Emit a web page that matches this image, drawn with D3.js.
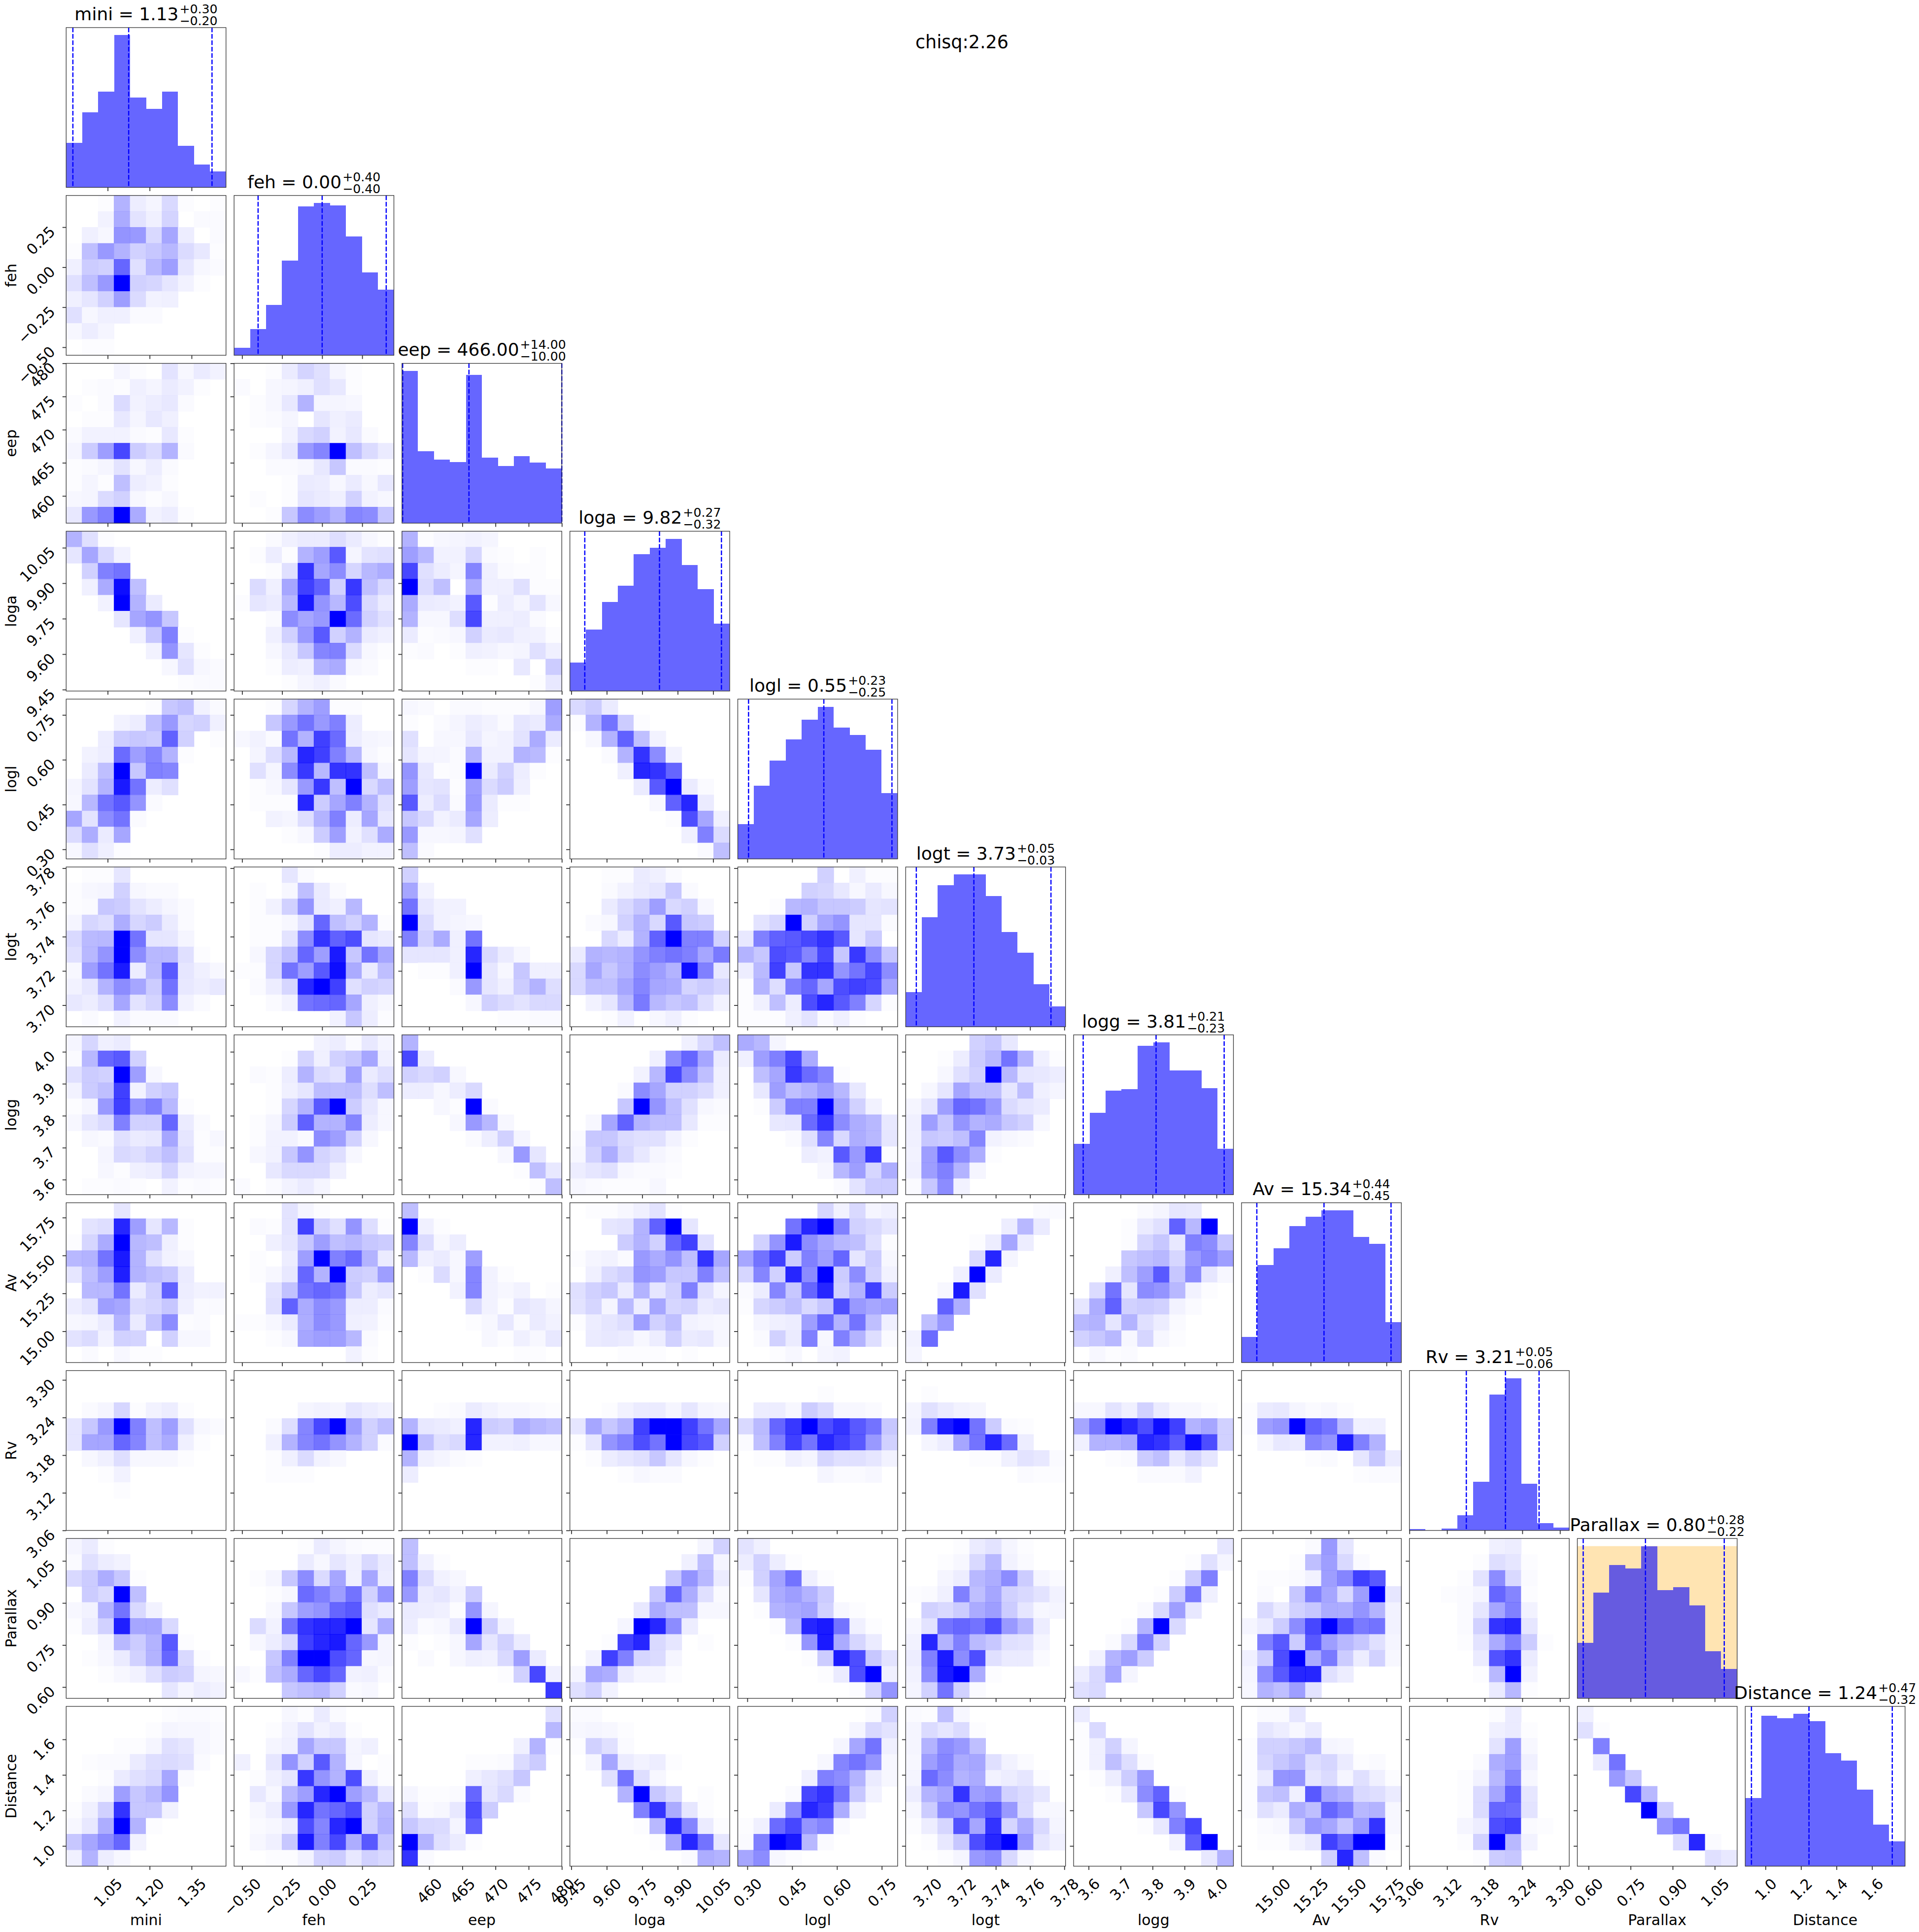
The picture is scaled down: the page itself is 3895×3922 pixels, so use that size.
<!DOCTYPE html>
<html>
<head>
<meta charset="utf-8">
<script src="https://cdn.jsdelivr.net/npm/d3@7"></script>
<style>
  body { margin: 0; background: #fff; }
  text { font-family: "DejaVu Sans", sans-serif; fill: #000; }
</style>
</head>
<body>
<div id="corner"></div>
<script>
// Parameter names and what the axes show
const names = ["mini", "feh", "eep", "loga", "logl", "logt", "logg", "Av", "Rv", "Parallax", "Distance"];
const ranges = [[0.9015, 1.473], [-0.55, 0.448], [455.9, 480], [9.444, 10.12], [0.268, 0.803], [3.6874, 3.7807],
    [3.553, 4.053], [14.794, 15.848], [3.06, 3.3148], [0.56, 1.13], [0.886, 1.786]];
const tickValues = [[1.05, 1.2, 1.35], [-0.5, -0.25, 0, 0.25], [460, 465, 470, 475, 480], [9.45, 9.6, 9.75, 9.9, 10.05],
    [0.3, 0.45, 0.6, 0.75], [3.7, 3.72, 3.74, 3.76, 3.78], [3.6, 3.7, 3.8, 3.9, 4.0], [15, 15.25, 15.5, 15.75],
    [3.06, 3.12, 3.18, 3.24, 3.3], [0.6, 0.75, 0.9, 1.05], [1.0, 1.2, 1.4, 1.6]];
const tickFormats = [".2f", ".2f", "d", ".2f", ".2f", ".2f", ".1f", ".2f", ".2f", ".2f", ".1f"];

// Titles: median, plus, minus
const titleValues = [["1.13", "+0.30", "−0.20"], ["0.00", "+0.40", "−0.40"], ["466.00", "+14.00", "−10.00"],
    ["9.82", "+0.27", "−0.32"], ["0.55", "+0.23", "−0.25"], ["3.73", "+0.05", "−0.03"], ["3.81", "+0.21", "−0.23"],
    ["15.34", "+0.44", "−0.45"], ["3.21", "+0.05", "−0.06"], ["0.80", "+0.28", "−0.22"], ["1.24", "+0.47", "−0.32"]];

// Dashed lines on the diagonal: low, median, high
const quantiles = [[0.9255, 1.125, 1.423], [-0.4, 0, 0.4], [456, 466, 480], [9.507, 9.823, 10.085], [0.304, 0.556, 0.784],
    [3.6936, 3.7272, 3.7722], [3.583, 3.811, 4.024], [14.895, 15.338, 15.78], [3.1507, 3.2131, 3.2667],
    [0.581, 0.803, 1.084], [0.921, 1.245, 1.714]];

// 1D histograms, counts
const hist_mini = [129, 218, 278, 441, 260, 228, 277, 120, 66, 46];
const hist_feh = [22, 76, 146, 274, 431, 441, 434, 344, 240, 190];
const hist_eep = [441, 208, 184, 177, 429, 190, 166, 194, 175, 158];
const hist_loga = [65, 140, 202, 239, 311, 326, 346, 286, 232, 153];
const hist_logl = [214, 448, 601, 730, 853, 931, 802, 757, 667, 403];
const hist_logt = [96, 304, 392, 422, 422, 363, 263, 205, 118, 56];
const hist_logg = [140, 227, 288, 292, 412, 421, 344, 344, 295, 127];
const hist_Av = [71, 270, 317, 378, 404, 422, 422, 348, 329, 112];
const hist_Rv = [4, 0, 5, 40, 126, 354, 396, 122, 19, 7];
const hist_Parallax = [145, 277, 349, 339, 398, 283, 290, 243, 123, 77];
const hist_Distance = [177, 391, 385, 396, 377, 294, 275, 199, 108, 64];
const histograms = [hist_mini, hist_feh, hist_eep, hist_loga, hist_logl, hist_logt, hist_logg, hist_Av, hist_Rv, hist_Parallax, hist_Distance];

// 2D histograms, percent of the panel maximum, top row first
const feh_mini = [[0,0,1,30,7,4,15,1,0,1],[0,0,5,33,11,6,17,0,2,2],[0,6,3,42,40,15,35,7,0,2],[1,25,40,30,18,22,28,14,9,1],[6,20,18,60,12,28,38,10,3,2],[12,25,40,100,18,16,10,5,1,0],[6,10,18,38,14,5,6,0,0,0],[12,3,6,6,2,2,0,0,0,0],[3,7,4,0,0,0,0,0,0,0],[0,1,1,0,0,0,0,0,0,0]];
const eep_mini = [[0,0,0,4,1,0,11,3,8,5],[0,1,2,1,6,4,8,5,1,0],[1,0,2,14,5,7,9,2,0,0],[0,1,1,9,4,9,6,0,0,0],[2,5,5,5,2,1,9,1,0,0],[4,20,38,72,20,14,30,2,0,0],[1,2,4,11,3,7,2,0,0,0],[1,4,1,25,7,5,1,0,0,0],[3,4,14,18,3,1,3,0,0,0],[9,40,50,100,33,5,7,1,0,0]];
const eep_feh = [[0,0,1,8,17,12,4,1,0,0],[2,0,3,4,6,12,9,1,0,0],[0,1,3,9,30,4,4,3,0,0],[0,1,2,4,0,10,6,8,0,0],[0,0,0,5,15,18,5,9,2,0],[0,1,4,9,40,48,100,25,14,8],[0,0,2,2,3,9,22,2,2,1],[0,0,0,1,8,7,3,8,3,9],[0,1,0,1,10,8,6,18,5,3],[0,0,1,22,45,38,30,48,45,22]];
const loga_mini = [[30,12,1,0,0,0,0,0,0,0],[10,35,15,5,0,0,0,0,0,0],[0,18,50,55,0,0,0,0,0,0],[0,6,33,95,25,0,0,0,0,0],[0,0,5,100,30,8,0,0,0,0],[0,0,0,10,35,42,22,0,0,0],[0,0,0,0,6,22,50,1,0,0],[0,0,0,0,0,5,42,10,1,0],[0,0,0,0,0,0,3,12,3,2],[0,0,0,0,0,0,0,1,2,2]];
const loga_feh = [[0,0,2,6,8,8,13,8,3,1],[0,1,7,1,30,38,65,4,11,12],[0,0,1,12,80,35,45,16,28,32],[0,14,6,35,75,62,18,78,25,15],[1,10,8,28,90,42,28,70,15,8],[0,0,2,45,35,40,100,58,18,12],[0,0,6,18,40,65,18,30,8,6],[0,0,3,9,22,48,50,14,3,1],[0,0,1,7,6,30,33,3,2,0],[0,0,0,1,4,6,2,0,0,0]];
const loga_eep = [[30,1,3,4,5,4,0,0,0,0],[38,28,5,5,16,2,1,0,1,0],[72,12,7,4,48,6,2,1,1,0],[100,14,25,0,33,6,6,12,1,1],[33,8,7,5,65,1,7,4,11,3],[30,3,3,13,72,6,6,7,2,0],[8,1,2,3,18,8,9,6,5,1],[1,2,0,1,6,5,3,4,12,6],[0,0,0,0,1,1,0,9,0,20],[0,0,0,0,0,0,0,0,1,9]];
const logl_mini = [[0,0,0,0,0,1,22,25,5,2],[0,0,0,5,7,25,40,16,18,6],[0,0,7,20,22,20,62,18,0,1],[0,5,7,58,38,48,30,1,0,0],[0,8,25,100,22,50,48,0,0,0],[4,11,30,90,55,7,12,0,0,0],[3,28,55,65,42,2,0,0,0,0],[35,11,45,55,2,0,0,0,0,0],[14,32,8,35,0,0,0,0,0,0],[3,12,6,1,0,0,0,0,0,0]];
const logl_feh = [[0,0,1,16,30,38,1,1,0,0],[0,0,22,40,55,40,50,7,0,0],[3,5,2,55,30,75,58,7,4,3],[0,4,13,28,85,75,50,28,3,1],[0,12,4,45,78,28,80,80,25,4],[0,1,3,10,40,78,25,100,15,25],[0,1,1,1,85,20,35,50,30,12],[0,0,5,4,13,30,50,7,35,9],[0,0,0,1,3,20,38,5,12,33],[0,0,0,0,0,1,7,7,5,5]];
const logl_eep = [[3,2,0,2,2,1,1,1,3,38],[1,0,2,4,7,5,2,10,8,33],[12,0,3,3,9,4,5,11,33,8],[10,4,4,2,30,5,5,30,27,1],[42,9,1,2,100,8,18,7,1,0],[38,10,11,1,38,14,20,6,0,0],[65,7,14,2,40,8,1,1,0,0],[22,15,5,8,35,7,0,0,0,0],[40,3,3,4,12,0,0,0,0,0],[25,2,0,0,0,0,0,0,0,0]];
const logl_loga = [[15,20,8,0,0,0,0,0,0,0],[1,30,55,20,1,0,0,0,0,0],[0,3,30,62,25,5,0,0,0,0],[0,0,2,30,80,45,5,0,0,0],[0,0,0,6,85,80,60,0,0,0],[0,0,0,0,8,65,100,8,2,0],[0,0,0,0,0,3,62,85,8,0],[0,0,0,0,0,0,1,70,35,6],[0,0,0,0,0,0,0,6,50,14],[0,0,0,0,0,0,0,0,2,25]];
const logt_mini = [[0,1,1,10,0,0,0,0,0,0],[1,3,4,18,3,2,2,0,0,0],[1,2,22,20,11,7,4,2,0,0],[4,16,13,32,16,20,8,2,0,0],[15,27,28,100,55,10,10,4,0,0],[12,28,42,100,45,28,28,12,1,0],[3,38,55,90,7,27,65,10,6,3],[5,10,30,45,35,20,55,9,7,9],[9,7,13,35,11,17,45,5,2,0],[0,2,0,5,2,2,2,0,0,0]];
const logt_feh = [[0,0,0,10,2,0,0,0,0,0],[0,1,0,3,25,8,2,0,0,0],[0,1,5,18,42,8,6,28,0,0],[0,1,1,3,11,60,25,18,30,1],[0,1,1,11,45,80,62,70,10,8],[0,3,16,25,60,38,90,22,55,35],[1,1,16,55,38,65,95,33,8,25],[0,2,7,16,85,100,75,12,18,16],[0,0,2,5,55,58,60,35,6,3],[0,0,0,0,0,0,5,22,7,1]];
const logt_eep = [[18,0,0,0,0,0,0,0,0,0],[35,5,0,0,0,0,0,0,0,0],[55,9,5,5,0,0,0,0,0,0],[100,14,5,4,3,0,0,0,0,0],[50,18,33,6,55,0,0,0,0,0],[10,10,10,6,85,15,8,3,0,0],[0,1,1,6,100,10,3,22,6,6],[0,0,0,2,40,10,6,20,30,13],[0,0,0,0,3,18,14,11,15,15],[0,0,0,0,0,0,1,1,2,2]];
const logt_loga = [[0,0,1,1,8,6,2,0,0,0],[0,0,2,5,8,10,22,2,0,0],[0,0,8,15,22,38,15,18,3,0],[0,2,3,18,30,15,65,22,20,0],[0,0,15,7,30,62,100,50,50,18],[8,30,28,30,42,50,55,50,35,52],[15,35,22,30,45,38,30,95,50,9],[15,25,25,35,48,35,33,17,20,16],[0,5,10,28,52,28,22,25,13,5],[0,0,1,5,0,3,6,1,0,0]];
const logt_logl = [[0,0,0,0,0,18,0,6,1,1],[0,0,0,0,18,16,9,3,8,3],[0,0,1,28,30,22,22,20,10,11],[0,11,16,100,18,35,42,10,10,2],[9,50,62,65,72,80,65,10,20,0],[30,22,70,65,48,72,22,78,45,22],[7,27,75,22,80,80,42,55,72,45],[1,30,13,50,60,35,70,75,70,35],[1,6,25,7,70,85,65,50,16,1],[1,1,1,6,11,2,6,1,0,0]];
const logg_mini = [[4,16,6,8,0,0,0,0,0,0],[2,28,60,65,18,0,0,0,0,0],[12,20,18,100,38,3,0,0,0,0],[5,20,25,75,5,18,22,0,0,0],[1,4,40,75,42,50,28,1,0,0],[3,10,14,50,18,18,60,8,2,0],[0,3,2,12,8,9,35,10,1,3],[0,0,4,15,13,18,25,12,1,1],[0,0,3,1,6,7,17,5,4,4],[0,1,1,2,1,0,5,1,2,1]];
const logg_feh = [[0,0,0,0,0,5,7,2,9,4],[0,0,0,1,17,6,18,22,35,6],[0,2,1,7,30,14,11,37,8,13],[0,0,1,6,10,26,25,26,13,25],[0,0,1,16,30,65,100,20,9,3],[0,1,4,20,62,30,30,48,7,3],[0,1,5,5,2,45,38,18,3,0],[0,3,5,22,42,17,13,3,0,0],[0,0,9,15,15,15,6,0,0,0],[2,0,2,5,8,4,0,0,0,0]];
const logg_eep = [[30,0,0,0,0,0,0,0,0,0],[72,8,0,0,0,0,0,0,0,0],[18,15,18,3,0,0,0,0,0,0],[7,7,3,7,15,0,0,0,0,0],[0,0,3,1,100,2,0,0,0,0],[0,0,0,3,40,28,3,0,0,0],[0,0,0,0,2,7,18,4,0,0],[0,0,0,0,0,0,3,40,10,0],[0,0,0,0,0,0,0,1,25,9],[0,0,0,0,0,0,0,0,1,25]];
const logg_loga = [[0,0,0,0,0,0,0,6,15,25],[0,0,0,0,0,6,45,60,35,8],[0,0,0,0,5,28,72,45,25,6],[0,0,0,2,45,35,18,18,14,6],[0,0,0,22,100,42,25,12,3,2],[0,3,35,62,30,25,25,9,1,1],[2,22,22,14,12,12,5,1,0,0],[3,18,32,16,9,4,2,0,0,0],[7,10,12,3,2,2,1,0,0,0],[3,2,1,1,1,3,0,0,0,0]];
const logg_logl = [[33,28,4,0,0,0,0,0,0,0],[6,38,50,72,33,0,0,0,0,0],[0,25,35,78,58,48,1,0,0,0],[0,9,38,25,30,38,28,9,0,0],[0,1,20,50,50,100,36,18,5,0],[0,0,9,10,58,80,45,32,28,9],[0,0,0,2,12,48,15,32,28,10],[0,0,0,0,7,5,65,40,78,1],[0,0,0,0,0,3,28,38,16,32],[0,0,0,0,0,0,2,11,20,20]];
const logg_logt = [[0,0,0,0,18,22,9,0,0,0],[0,0,1,7,20,28,55,30,6,1],[0,0,3,12,18,100,28,10,9,7],[0,3,10,35,25,25,10,25,6,4],[4,10,38,60,55,40,14,10,8,0],[6,38,22,42,30,33,22,18,3,0],[6,22,20,25,48,5,3,2,0,0],[5,38,65,45,32,1,0,0,0,0],[6,38,50,30,4,0,0,0,0,0],[2,22,45,5,0,0,0,0,0,0]];
const Av_mini = [[0,0,0,10,0,0,0,0,0,0],[0,11,13,85,38,10,28,1,0,0],[1,16,33,100,28,25,6,1,0,0],[28,30,55,90,30,12,5,3,0,0],[10,25,38,88,30,25,22,8,0,0],[0,28,28,55,8,18,62,7,5,5],[7,11,38,35,14,16,22,6,2,2],[3,4,8,30,8,23,45,1,2,0],[11,14,5,18,17,0,18,3,3,0],[0,2,0,3,1,1,0,0,0,0]];
const Av_feh = [[0,0,0,11,4,1,0,0,0,0],[0,2,1,11,75,20,12,42,13,1],[0,0,6,10,22,38,25,28,22,20],[0,1,0,7,38,100,50,58,30,8],[0,1,3,9,60,30,100,20,18,38],[0,0,11,24,55,60,55,22,7,10],[0,0,12,62,33,45,40,7,7,2],[1,1,3,8,32,45,40,6,5,1],[0,0,1,3,35,38,38,28,2,0],[0,0,0,0,0,0,0,5,1,0]];
const Av_eep = [[25,0,0,0,0,0,0,0,0,0],[100,6,1,0,0,0,0,0,0,0],[48,14,3,7,0,0,0,0,0,0],[28,6,8,3,38,0,0,0,0,0],[0,1,14,3,48,5,1,0,0,0],[0,0,0,5,48,5,3,5,0,1],[0,0,0,0,15,5,1,10,8,4],[0,0,0,0,1,3,9,2,8,5],[0,0,0,0,0,3,1,6,3,9],[0,0,0,0,0,0,0,1,1,0]];
const Av_loga = [[0,1,1,3,6,11,1,0,0,0],[0,0,10,11,30,62,100,10,0,0],[0,0,0,20,30,18,60,75,12,0],[1,4,5,2,40,33,42,25,80,35],[0,6,14,18,42,38,22,22,50,25],[12,18,22,8,30,10,18,50,12,4],[11,16,4,27,7,35,16,18,8,10],[1,7,10,13,38,18,25,5,4,3],[0,8,9,8,3,7,18,8,9,3],[0,0,0,1,1,1,0,1,0,0]];
const Av_logl = [[0,0,0,0,0,16,5,15,4,6],[0,0,0,55,85,100,50,18,15,10],[0,18,42,90,45,35,28,25,12,1],[35,55,75,20,50,38,60,10,20,3],[16,48,18,85,45,100,20,45,18,5],[2,7,48,22,60,85,18,30,75,20],[1,16,20,25,15,22,70,40,35,38],[0,4,6,7,38,60,30,55,25,6],[0,2,18,8,50,3,50,30,13,2],[0,0,1,3,0,4,5,0,0,0]];
const Av_logt = [[0,0,0,0,0,0,0,0,2,2],[0,0,0,0,0,0,7,28,8,0],[0,0,0,0,1,7,35,7,0,0],[0,0,0,0,15,85,4,0,0,0],[0,0,0,6,100,8,0,0,0,0],[0,0,3,90,12,0,0,0,0,0],[0,0,62,32,0,0,0,0,0,0],[0,25,40,0,0,0,0,0,0,0],[5,58,0,0,0,0,0,0,0,0],[4,0,0,0,0,0,0,0,0,0]];
const Av_logg = [[0,0,0,0,2,4,10,9,0,0],[0,0,0,1,8,12,62,28,100,0],[0,0,0,1,16,22,9,50,45,22],[0,0,0,22,25,28,16,40,48,38],[0,0,6,25,38,65,22,45,10,3],[0,14,55,10,45,42,28,5,1,0],[10,32,62,18,20,18,5,2,0,0],[28,30,10,30,12,7,2,0,0,0],[18,22,28,3,16,3,1,0,0,0],[0,3,1,2,0,0,0,0,0,0]];
const Rv_mini = [[0,0,0,0,0,0,0,0,0,0],[0,0,0,0,0,0,0,0,0,0],[0,2,4,16,1,5,7,1,0,0],[10,22,40,100,50,25,38,12,3,2],[10,35,35,60,48,25,33,6,1,0],[0,3,6,13,3,3,3,1,0,0],[0,0,1,5,0,0,0,0,0,0],[0,0,0,1,0,0,0,0,0,0],[0,0,0,0,0,0,0,0,0,0],[0,0,0,0,0,0,0,0,0,0]];
const Rv_feh = [[0,0,0,0,0,0,0,0,0,0],[0,0,0,0,0,0,0,0,0,0],[0,0,0,0,4,5,4,10,7,5],[0,0,2,13,48,72,100,38,18,25],[0,0,6,30,48,55,42,30,18,2],[0,0,1,6,14,5,3,0,0,0],[0,0,1,1,1,0,0,0,0,0],[0,0,0,0,0,0,0,0,0,0],[0,0,0,0,0,0,0,0,0,0],[0,0,0,0,0,0,0,0,0,0]];
const Rv_eep = [[0,0,0,0,0,0,0,0,0,0],[0,0,0,0,0,0,0,0,0,0],[0,0,1,2,8,5,3,3,2,1],[30,9,8,6,85,20,18,33,28,25],[100,25,12,15,85,5,5,6,3,3],[30,6,4,2,1,0,0,0,0,0],[7,0,0,0,0,0,0,0,0,0],[0,0,0,0,0,0,0,0,0,0],[0,0,0,0,0,0,0,0,0,0],[0,0,0,0,0,0,0,0,0,0]];
const Rv_loga = [[0,0,0,0,0,0,0,0,0,0],[0,0,0,0,0,0,0,0,0,0],[0,0,1,5,8,8,4,10,4,3],[10,35,22,30,75,100,100,75,55,35],[1,10,42,50,70,55,100,72,65,18],[0,1,7,10,12,22,10,3,1,0],[0,0,0,1,3,2,2,0,0,0],[0,0,0,0,0,0,0,0,0,0],[0,0,0,0,0,0,0,0,0,0],[0,0,0,0,0,0,0,0,0,0]];
const Rv_logl = [[0,0,0,0,0,0,0,0,0,0],[0,0,0,0,0,1,0,0,0,0],[0,7,7,3,20,14,3,3,2,0],[15,27,60,78,100,70,80,65,55,22],[2,25,50,75,55,85,75,65,40,18],[0,1,1,6,4,16,12,12,10,5],[0,0,0,0,0,4,2,2,3,0],[0,0,0,0,0,0,0,0,0,0],[0,0,0,0,0,0,0,0,0,0],[0,0,0,0,0,0,0,0,0,0]];
const Rv_logt = [[0,0,0,0,0,0,0,0,0,0],[0,1,0,0,0,0,0,0,0,0],[4,12,8,5,4,0,0,0,0,0],[5,50,90,100,55,20,2,1,0,0],[0,4,7,35,55,85,58,7,0,0],[0,0,0,0,1,1,6,11,9,2],[0,0,0,0,0,0,0,2,1,1],[0,0,0,0,0,0,0,0,0,0],[0,0,0,0,0,0,0,0,0,0],[0,0,0,0,0,0,0,0,0,0]];
const Rv_logg = [[0,0,0,0,0,0,0,0,0,0],[0,0,0,0,0,0,0,0,0,0],[3,3,11,6,18,8,3,3,1,0],[35,55,100,85,70,95,75,30,35,18],[6,30,30,33,85,80,65,95,70,18],[0,0,1,2,20,25,9,17,10,0],[0,0,0,0,2,2,2,5,0,0],[0,0,0,0,0,0,0,0,0,0],[0,0,0,0,0,0,0,0,0,0],[0,0,0,0,0,0,0,0,0,0]];
const Rv_Av = [[0,0,0,0,0,0,0,0,0,0],[0,0,0,0,0,0,0,0,0,0],[1,8,9,4,2,3,1,0,0,0],[1,38,42,100,62,55,28,6,6,0],[0,4,9,8,48,42,90,50,30,0],[0,0,0,0,1,2,0,10,22,8],[0,0,0,0,0,0,0,1,2,2],[0,0,0,0,0,0,0,0,0,0],[0,0,0,0,0,0,0,0,0,0],[0,0,0,0,0,0,0,0,0,0]];
const Parallax_mini = [[4,8,1,0,0,0,0,0,0,0],[2,12,7,5,0,0,0,0,0,0],[15,20,32,22,1,0,0,0,0,0],[0,20,15,100,25,0,0,0,0,0],[3,5,30,55,15,5,0,0,0,0],[1,7,18,88,35,35,15,0,0,0],[0,0,4,28,20,30,65,1,0,0],[0,1,3,8,18,30,60,15,1,0],[0,0,1,3,5,12,20,18,4,3],[0,0,0,0,0,0,10,4,7,5]];
const Parallax_feh = [[0,0,0,0,1,8,4,2,1,1],[0,0,0,0,8,3,10,6,15,8],[0,1,4,22,45,14,35,6,35,7],[0,0,1,3,58,50,38,55,18,42],[0,0,3,22,38,42,60,65,12,8],[0,14,5,55,80,85,85,100,10,32],[0,3,7,15,75,85,90,60,40,4],[0,0,22,50,100,100,70,60,3,4],[3,1,25,33,60,72,60,5,6,2],[0,0,0,22,25,28,18,2,3,0]];
const Parallax_eep = [[25,0,0,0,0,0,0,0,0,0],[25,6,1,0,0,0,0,0,0,0],[50,14,5,3,0,0,0,0,0,0],[40,8,10,5,20,0,0,0,0,0],[8,7,6,1,42,4,0,0,0,0],[7,2,3,9,100,20,5,0,0,0],[1,0,1,3,35,10,18,8,0,0],[0,2,0,3,6,5,15,38,8,0],[0,0,0,0,0,0,1,18,72,6],[0,0,0,0,0,0,0,0,0,78]];
const Parallax_loga = [[0,0,0,0,0,0,0,0,4,18],[0,0,0,0,0,0,0,6,25,4],[0,0,0,0,0,0,22,42,28,8],[0,0,0,0,0,22,60,32,12,2],[0,0,0,0,9,33,25,25,3,3],[0,0,0,4,100,85,45,7,0,0],[0,0,1,75,85,15,10,0,1,0],[0,5,75,50,16,14,4,0,0,0],[4,35,32,8,4,4,1,0,0,0],[12,18,5,0,0,0,0,0,0,0]];
const Parallax_logl = [[11,6,0,0,0,0,0,0,0,0],[7,18,7,1,0,0,0,0,0,0],[1,18,36,55,6,1,0,0,0,0],[0,10,33,38,30,20,0,0,0,0],[0,1,30,33,36,18,3,1,0,0],[0,0,1,28,85,90,55,6,1,0],[0,0,0,1,42,90,33,16,8,0],[0,0,0,0,1,20,90,70,22,11],[0,0,0,0,0,1,8,70,100,6],[0,0,0,0,0,0,0,1,16,42]];
const Parallax_logt = [[0,0,0,1,8,11,4,1,0,0],[0,0,1,3,15,28,5,2,0,0],[0,0,4,7,28,32,45,20,4,2],[1,2,6,50,25,35,18,15,11,5],[0,18,15,20,33,38,20,10,3,4],[3,11,55,60,55,70,40,28,7,0],[5,85,30,50,27,22,12,11,4,0],[7,50,90,45,70,12,8,8,2,0],[5,45,90,100,33,1,0,0,0,0],[4,18,55,18,2,0,0,0,0,0]];
const Parallax_logg = [[0,0,0,0,0,0,0,0,0,10],[0,0,0,0,0,0,0,1,12,4],[0,0,0,0,0,0,1,20,50,0],[0,0,0,0,0,1,20,52,6,0],[0,0,0,0,2,15,38,9,0,0],[0,0,0,1,30,100,15,0,0,0],[0,0,2,15,52,18,0,0,0,0],[0,5,30,38,20,0,0,0,0,0],[7,15,35,4,0,0,0,0,0,0],[12,15,0,0,0,0,0,0,0,0]];
const Parallax_Av = [[0,0,0,0,2,40,10,0,0,0],[0,0,0,1,25,38,15,2,0,0],[0,1,1,2,5,38,48,75,65,0],[0,2,0,22,50,35,15,38,100,10],[0,15,8,18,22,33,32,42,30,5],[4,8,20,45,72,100,68,52,55,5],[1,50,65,20,65,38,28,22,12,4],[6,20,70,100,33,52,20,7,18,3],[4,45,65,85,85,12,7,0,0,0],[3,30,25,38,11,0,0,0,0,0]];
const Parallax_Rv = [[0,0,0,0,0,6,7,0,0,0],[0,0,0,0,1,13,10,1,0,0],[0,0,0,1,11,45,15,2,0,0],[0,0,1,2,4,60,48,1,0,0],[0,0,0,2,10,35,50,5,0,0],[0,0,0,2,18,80,85,10,0,0],[0,0,0,1,11,33,50,20,1,0],[0,0,0,0,8,68,80,8,0,0],[0,0,0,0,1,28,100,5,0,0],[0,0,0,0,0,8,28,1,0,0]];
const Distance_mini = [[0,0,0,0,0,0,1,2,2,1],[0,0,0,0,0,1,4,3,3,2],[0,0,0,1,1,4,12,10,3,2],[0,1,2,2,8,13,14,12,2,0],[0,0,1,8,12,15,35,2,0,0],[0,2,4,38,22,28,42,0,0,0],[1,6,18,80,22,22,5,0,0,0],[3,9,32,100,30,1,0,0,0,0],[22,35,45,60,5,0,0,0,0,0],[6,30,7,3,0,0,0,0,0,0]];
const Distance_feh = [[0,0,0,3,1,8,2,0,0,0],[0,0,1,5,11,5,8,1,0,0],[0,0,4,6,35,22,22,4,6,0],[6,0,10,42,18,65,30,4,0,1],[0,1,6,10,78,42,30,70,6,1],[0,9,3,28,38,85,100,38,28,9],[0,3,7,40,85,55,60,70,18,28],[0,2,3,7,70,48,85,100,18,30],[0,3,6,22,90,50,72,32,65,22],[0,0,1,1,5,18,20,9,18,15]];
const Distance_eep = [[0,0,0,0,0,0,0,0,0,12],[0,0,0,0,0,0,0,0,0,28],[0,0,0,0,0,0,0,6,30,1],[0,0,0,0,1,1,2,14,20,0],[0,0,0,0,6,9,12,22,0,0],[4,1,1,2,60,10,15,2,0,0],[12,2,3,9,70,20,0,0,0,0],[22,15,14,4,62,0,0,0,0,0],[100,30,12,8,1,0,0,0,0,0],[80,2,0,0,0,0,0,0,0,0]];
const Distance_loga = [[2,2,0,0,0,0,0,0,0,0],[3,4,3,1,0,0,0,0,0,0],[1,18,12,2,0,0,0,0,0,0],[0,4,35,8,5,7,1,0,0,0],[0,0,12,55,13,3,0,0,0,0],[0,0,0,30,100,22,14,0,1,0],[0,0,0,0,50,80,33,10,1,0],[0,0,0,0,1,28,85,48,8,1],[0,0,0,0,0,1,35,85,55,10],[0,0,0,0,0,0,0,2,32,30]];
const Distance_logl = [[0,0,0,0,0,0,0,0,2,18],[0,0,0,0,0,0,0,4,15,11],[0,0,0,0,0,0,4,35,55,6],[0,0,0,0,0,3,48,55,42,3],[0,0,0,0,6,50,45,30,8,3],[0,0,0,2,72,80,55,22,5,0],[0,0,8,45,85,75,32,5,0,0],[1,6,58,72,42,48,2,0,0,0],[2,50,100,90,28,2,0,0,0,0],[35,45,3,1,0,0,0,0,0,0]];
const Distance_logt = [[2,1,25,3,0,0,0,0,0,0],[4,14,10,14,1,0,0,0,0,0],[4,30,45,40,25,0,0,0,0,0],[3,38,48,33,35,12,5,2,0,0],[4,58,45,30,33,5,7,10,1,0],[7,30,35,80,38,42,18,14,10,0],[3,20,45,42,55,65,40,14,3,3],[1,7,16,68,35,80,16,32,15,4],[0,1,9,22,70,85,100,40,10,6],[0,0,1,4,40,45,15,3,0,0]];
const Distance_logg = [[8,0,0,0,0,0,0,0,0,0],[1,15,0,0,0,0,0,0,0,0],[1,6,18,4,0,0,0,0,0,0],[1,6,25,13,2,0,0,0,0,0],[0,1,7,20,40,0,0,0,0,0],[0,0,1,9,45,62,1,0,0,0],[0,0,0,0,22,72,42,0,0,0],[0,0,0,0,1,9,50,72,0,0],[0,0,0,0,0,0,5,62,100,0],[0,0,0,0,0,0,0,0,9,30]];
const Distance_Av = [[0,2,2,10,0,0,0,0,0,0],[0,10,7,3,8,0,0,0,0,0],[1,18,18,22,28,4,3,0,0,0],[1,16,22,28,13,16,8,1,2,0],[1,8,42,42,10,14,4,12,6,1],[1,22,25,6,65,35,30,15,13,8],[1,12,8,32,25,60,50,28,30,3],[0,2,3,20,40,35,22,38,80,3],[0,1,1,5,9,75,60,100,100,1],[0,0,0,0,0,18,85,25,2,0]];
const Distance_Rv = [[0,0,0,0,0,1,8,0,0,0],[0,0,0,0,0,6,8,1,0,0],[0,0,0,0,0,11,38,3,0,0],[0,0,0,0,2,32,38,6,0,0],[0,0,0,1,5,28,48,3,0,0],[0,0,0,1,14,35,62,10,0,0],[0,0,0,1,14,60,58,11,0,0],[0,0,0,4,7,70,75,2,1,0],[0,0,0,1,18,100,28,5,0,0],[0,0,0,0,1,20,22,0,0,0]];
const Distance_Parallax = [[6,0,0,0,0,0,0,0,0,0],[12,1,0,0,0,0,0,0,0,0],[0,50,0,0,0,0,0,0,0,0],[0,8,55,0,0,0,0,0,0,0],[0,0,40,22,0,0,0,0,0,0],[0,0,0,72,28,0,0,0,0,0],[0,0,0,0,100,20,0,0,0,0],[0,0,0,0,0,42,55,0,0,0],[0,0,0,0,0,0,14,85,2,0],[0,0,0,0,0,0,0,0,12,9]];

const grids = [
    [],
    [feh_mini],
    [eep_mini, eep_feh],
    [loga_mini, loga_feh, loga_eep],
    [logl_mini, logl_feh, logl_eep, logl_loga],
    [logt_mini, logt_feh, logt_eep, logt_loga, logt_logl],
    [logg_mini, logg_feh, logg_eep, logg_loga, logg_logl, logg_logt],
    [Av_mini, Av_feh, Av_eep, Av_loga, Av_logl, Av_logt, Av_logg],
    [Rv_mini, Rv_feh, Rv_eep, Rv_loga, Rv_logl, Rv_logt, Rv_logg, Rv_Av],
    [Parallax_mini, Parallax_feh, Parallax_eep, Parallax_loga, Parallax_logl, Parallax_logt, Parallax_logg, Parallax_Av, Parallax_Rv],
    [Distance_mini, Distance_feh, Distance_eep, Distance_loga, Distance_logl, Distance_logt, Distance_logg, Distance_Av, Distance_Rv, Distance_Parallax]
];

// Layout of the grid of panels
const pageWidth = 3895;
const pageHeight = 3922;
const left = 134.3;
const top0 = 56;
const pitch = 340.8;
const size = 324.4;
const bins = 10;
const lineColor = "#333";
const tickSize = 7.5;
const tickFont = 30;

const svg = d3.select("#corner").append("svg")
    .attr("width", pageWidth)
    .attr("height", pageHeight);

const color = d3.scaleLinear().domain([0, 100]).range(["#ffffff", "#0000ff"]);

function xScale(i) {
    return d3.scaleLinear().domain(ranges[i]).range([0, size]);
}
function yScale(i) {
    return d3.scaleLinear().domain(ranges[i]).range([size, 0]);
}
function binEdge(i, k) {
    return ranges[i][0] + (ranges[i][1] - ranges[i][0]) * k / bins;
}

// Rotated tick labels: bottom axis labels are centred on the tick
function styleBottomTicks(axis) {
    axis.selectAll("text").each(function () {
        const t = d3.select(this).attr("font-size", tickFont).attr("text-anchor", "middle").attr("y", 0).attr("dy", "0.35em");
        const w = this.getComputedTextLength();
        const boxH = (w + tickFont * 0.76) * Math.SQRT1_2;
        t.attr("transform", `translate(0,${22 + boxH / 2}) rotate(-45)`);
    });
}

// Left axis labels hang just below the tick, as center_baseline does
function styleLeftTicks(axis) {
    axis.selectAll("text").each(function () {
        const t = d3.select(this).attr("font-size", tickFont).attr("text-anchor", "middle").attr("x", 0).attr("dy", "0.35em");
        const w = this.getComputedTextLength();
        const box = (w + tickFont * 0.76) * Math.SQRT1_2;
        t.attr("transform", `translate(${-20 - box / 2},${box / 2 - 5}) rotate(-45)`);
    });
}

function addAxes(g, row, col) {
    const bottom = d3.axisBottom(xScale(col))
        .tickValues(tickValues[col])
        .tickSize(tickSize)
        .tickSizeOuter(0)
        .tickFormat(row === names.length - 1 ? d3.format(tickFormats[col]) : "");
    const xAxis = g.append("g").attr("transform", `translate(0,${size})`).call(bottom);
    xAxis.select(".domain").remove();
    xAxis.selectAll("line").attr("stroke", lineColor).attr("stroke-width", 1.8);
    if (row === names.length - 1) {
        styleBottomTicks(xAxis);
    }

    if (row !== col) {
        const leftAxis = d3.axisLeft(yScale(row))
            .tickValues(tickValues[row])
            .tickSize(tickSize)
            .tickSizeOuter(0)
            .tickFormat(col === 0 ? d3.format(tickFormats[row]) : "");
        const yAxis = g.append("g").call(leftAxis);
        yAxis.select(".domain").remove();
        yAxis.selectAll("line").attr("stroke", lineColor).attr("stroke-width", 1.8);
        if (col === 0) {
            styleLeftTicks(yAxis);
        }
    }
}

function addFrame(g) {
    g.append("rect")
        .attr("width", size)
        .attr("height", size)
        .attr("fill", "none")
        .attr("stroke", lineColor)
        .attr("stroke-width", 1.3);
}

// One 2D histogram panel
function drawGrid(row, col) {
    const g = svg.append("g").attr("transform", `translate(${left + col * pitch},${top0 + row * pitch})`);
    const x = xScale(col);
    const y = yScale(row);
    const cells = [];
    grids[row][col].forEach((values, r) => {
        values.forEach((v, c) => {
            if (v > 0) cells.push({ r: bins - 1 - r, c: c, v: v });
        });
    });
    g.selectAll(".cell")
        .data(cells)
        .enter()
        .append("rect")
        .attr("class", "cell")
        .attr("x", d => x(binEdge(col, d.c)))
        .attr("y", d => y(binEdge(row, d.r + 1)))
        .attr("width", d => x(binEdge(col, d.c + 1)) - x(binEdge(col, d.c)))
        .attr("height", d => y(binEdge(row, d.r)) - y(binEdge(row, d.r + 1)))
        .attr("fill", d => color(d.v))
        .attr("stroke", d => color(Math.min(100, d.v * 1.15)))
        .attr("stroke-width", 0.8);
    addFrame(g);
    addAxes(g, row, col);
}

// One diagonal panel: histogram, dashed quantiles and the title
function drawDiagonal(i) {
    const g = svg.append("g").attr("transform", `translate(${left + i * pitch},${top0 + i * pitch})`);
    const x = xScale(i);
    const counts = histograms[i];
    const y = d3.scaleLinear().domain([0, d3.max(counts) * 1.05]).range([size, 0]);

    // Parallax has the orange band behind its bars
    if (names[i] === "Parallax") {
        g.append("rect")
            .attr("x", 0)
            .attr("y", y(d3.max(counts)))
            .attr("width", size)
            .attr("height", size - y(d3.max(counts)))
            .attr("fill", "orange")
            .attr("fill-opacity", 0.3);
    }

    g.selectAll(".bar")
        .data(counts)
        .enter()
        .append("rect")
        .attr("class", "bar")
        .attr("x", (d, k) => x(binEdge(i, k)))
        .attr("y", d => y(d))
        .attr("width", (d, k) => x(binEdge(i, k + 1)) - x(binEdge(i, k)))
        .attr("height", d => size - y(d))
        .attr("fill", "#0000ff")
        .attr("fill-opacity", 0.6)
        .attr("shape-rendering", "crispEdges");

    g.selectAll(".quantile")
        .data(quantiles[i])
        .enter()
        .append("line")
        .attr("class", "quantile")
        .attr("x1", d => x(d))
        .attr("x2", d => x(d))
        .attr("y1", 0)
        .attr("y2", size)
        .attr("stroke", "#0000ff")
        .attr("stroke-width", 2.5)
        .attr("stroke-dasharray", "9.5 3.5");

    addFrame(g);
    addAxes(g, i, i);
    addTitle(g, i);
}

function addTitle(g, i) {
    const [median, plus, minus] = titleValues[i];
    const main = g.append("text")
        .attr("y", -15.3)
        .attr("font-size", 36)
        .attr("xml:space", "preserve")
        .text(`${names[i]} = ${median}`);
    const sup = g.append("text").attr("y", -29.3).attr("font-size", 25.2).text(plus);
    const sub = g.append("text").attr("y", -5.3).attr("font-size", 25.2).text(minus);
    const mainWidth = main.node().getComputedTextLength();
    const scriptWidth = Math.max(sup.node().getComputedTextLength(), sub.node().getComputedTextLength());
    const start = size / 2 - (mainWidth + scriptWidth + 2) / 2;
    main.attr("x", start);
    // right aligned stack of the two scripts
    sup.attr("x", start + mainWidth + 2 + scriptWidth).attr("text-anchor", "end");
    sub.attr("x", start + mainWidth + 2 + scriptWidth).attr("text-anchor", "end");
}

function addLabels() {
    names.forEach((name, i) => {
        svg.append("text")
            .attr("x", left + i * pitch + size / 2)
            .attr("y", top0 + (names.length - 1) * pitch + size + 120)
            .attr("text-anchor", "middle")
            .attr("font-size", 30)
            .text(name);
        if (i > 0) {
            const cy = top0 + i * pitch + size / 2;
            svg.append("text")
                .attr("transform", `translate(22,${cy}) rotate(-90)`)
                .attr("text-anchor", "middle")
                .attr("dy", "0.35em")
                .attr("font-size", 30)
                .text(name);
        }
    });
    svg.append("text")
        .attr("x", pageWidth / 2 + 5)
        .attr("y", 98)
        .attr("text-anchor", "middle")
        .attr("font-size", 36.5)
        .text("chisq:2.26");
}

function startCorner() {
    names.forEach((name, row) => {
        d3.range(row).forEach(col => drawGrid(row, col));
        drawDiagonal(row);
    });
    addLabels();
}

startCorner();
</script>
</body>
</html>
